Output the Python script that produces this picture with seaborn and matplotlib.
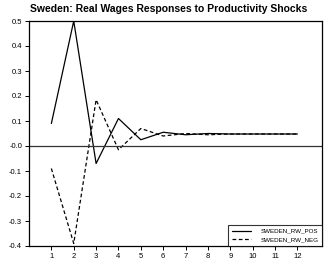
import matplotlib
matplotlib.use("Agg")
import matplotlib.pyplot as plt
import pandas as pd
import seaborn as sns

periods = list(range(1, 13))
rw_pos = [0.09, 0.50, -0.07, 0.11, 0.025, 0.055, 0.045, 0.05, 0.048, 0.048, 0.048, 0.048]
rw_neg = [-0.09, -0.39, 0.185, -0.015, 0.07, 0.04, 0.05, 0.045, 0.048, 0.048, 0.048, 0.048]
y_ticks = [0.5, 0.4, 0.3, 0.2, 0.1, 0.0, -0.1, -0.2, -0.3, -0.4]
y_labels = ["0.5", "0.4", "0.3", "0.2", "0.1", "-0.0", "-0.1", "-0.2", "-0.3", "-0.4"]

df = pd.DataFrame({"period": periods, "SWEDEN_RW_POS": rw_pos, "SWEDEN_RW_NEG": rw_neg})
long_df = df.melt(id_vars="period", var_name="series", value_name="value")

sns.set_style("ticks")
plt.rcParams["font.family"] = ["Liberation Sans", "DejaVu Sans"]
plt.rcParams["text.color"] = "black"
plt.rcParams["xtick.color"] = "black"
plt.rcParams["ytick.color"] = "black"
plt.rcParams["axes.edgecolor"] = "black"

fig = plt.figure(figsize=(3.25, 2.67), dpi=100)
ax = fig.add_axes([29 / 325, 21 / 267, 293 / 325, 225 / 267])

sns.lineplot(
    data=long_df, x="period", y="value", style="series",
    dashes={"SWEDEN_RW_POS": "", "SWEDEN_RW_NEG": (3, 2)},
    color="black", linewidth=0.9, ax=ax,
)
ax.axhline(0, color="#333333", linewidth=0.9)

ax.set_xlim(0, 13.1)
ax.set_ylim(-0.4, 0.5)
ax.set_xticks(periods)
ax.set_xticklabels([str(p) for p in periods], fontsize=5.5)
ax.set_yticks(y_ticks)
ax.set_yticklabels(y_labels, fontsize=5.5)
ax.tick_params(length=3, width=0.7, pad=2)
ax.set_xlabel("")
ax.set_ylabel("")
for s in ax.spines.values():
    s.set_linewidth(0.9)
    s.set_visible(True)

fig.suptitle("Sweden: Real Wages Responses to Productivity Shocks",
             fontsize=7.5, fontweight="bold", x=0.52, y=0.985)

leg = ax.legend(loc="lower right", fontsize=4.5, frameon=True, fancybox=False,
                edgecolor="black", handlelength=3.0, handletextpad=1.5,
                borderpad=0.6, borderaxespad=0.0)
leg.get_frame().set_linewidth(0.8)

fig.savefig("out.png", dpi=100)
